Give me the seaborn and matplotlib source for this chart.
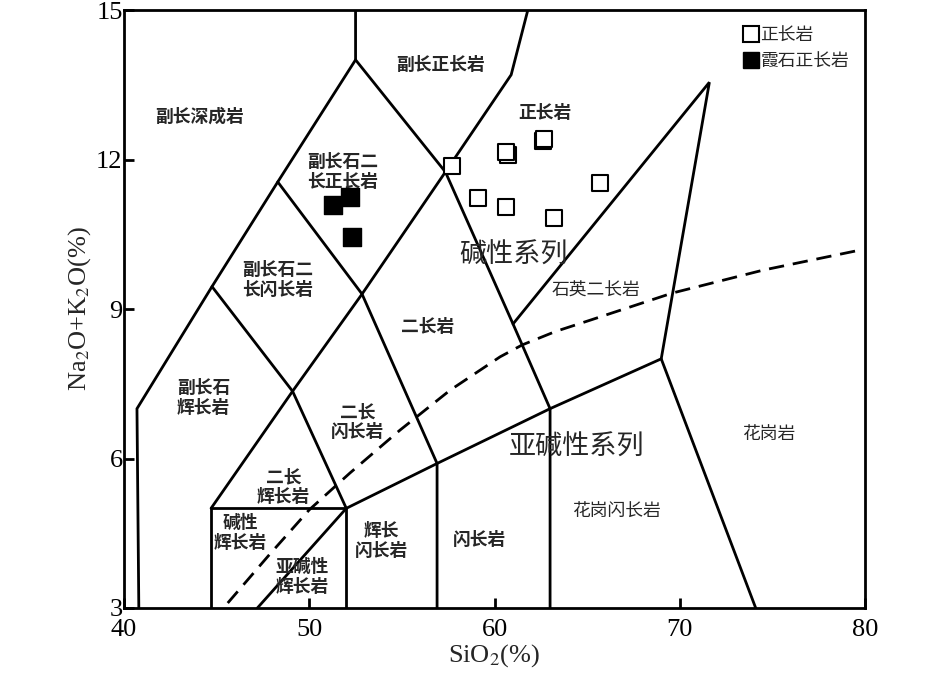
import numpy as np
import pandas as pd
import matplotlib
matplotlib.use("Agg")
import matplotlib.pyplot as plt
import seaborn as sns
from matplotlib.lines import Line2D

# samples
syenite_sio2 = [57.7, 59.1, 60.6, 60.75, 60.6, 62.6, 62.65, 65.7, 63.2]
syenite_alk = [11.87, 11.23, 11.05, 12.10, 12.16, 12.37, 12.42, 11.53, 10.83]
neph_sio2 = [51.3, 52.2, 52.3]
neph_alk = [11.09, 11.25, 10.44]

# field boundaries (SiO2, Na2O+K2O)
line_left = [(40.8, 3), (40.7, 7.0), (44.75, 9.45), (48.3, 11.55), (52.5, 14.0), (52.5, 15)]
line_mid = [(52.5, 14.0), (57.35, 11.75), (61.0, 8.7), (63.0, 7.0), (63.0, 3)]
line_top = [(57.35, 11.75), (60.9, 13.7), (61.8, 15)]
line_qm = [(61.0, 8.7), (71.6, 13.55), (69.0, 8.0), (74.1, 3)]
line_box = [(44.7, 3), (44.7, 5.0), (52.0, 5.0), (52.0, 3)]
line_f = [(44.7, 5.0), (49.1, 7.35), (52.85, 9.3), (57.35, 11.75)]
line_g = [(44.75, 9.45), (49.1, 7.35), (52.0, 5.0), (56.9, 5.9), (63.0, 7.0), (69.0, 8.0)]
line_h = [(48.3, 11.55), (52.85, 9.3), (56.9, 5.9), (56.9, 3)]
line_i = [(52.0, 5.0), (47.2, 3)]
boundaries = [line_left, line_mid, line_top, line_qm, line_box, line_f, line_g, line_h, line_i]

# alkaline / subalkaline divide
div_sio2 = [45.6, 47.8, 50.0, 52.2, 54.9, 57.6, 60.3, 61.5, 63.3, 65.2, 69.6, 74.5, 79.7]
div_alk = [3.1, 4.05, 4.97, 5.71, 6.57, 7.37, 8.04, 8.28, 8.55, 8.78, 9.32, 9.78, 10.18]

field_names = ["副长深成岩", "副长正长岩", "正长岩", "副长石二\n长正长岩", "副长石二\n长闪长岩",
               "石英二长岩", "二长岩", "副长石\n辉长岩", "二长\n闪长岩", "花岗岩", "二长\n辉长岩",
               "花岗闪长岩", "碱性\n辉长岩", "辉长\n闪长岩", "闪长岩", "亚碱性\n辉长岩"]
field_x = [44.1, 57.1, 62.7, 51.8, 48.3, 65.5, 56.4, 44.3, 52.6, 74.8, 48.6, 66.6, 46.3, 53.9, 59.2, 49.6]
field_y = [12.87, 13.9, 12.93, 11.75, 9.58, 9.36, 8.64, 7.21, 6.73, 6.49, 5.43, 4.93, 4.5, 4.35, 4.37, 3.62]
field_bold = [True, True, True, True, True, False, True, True, True, False, True, False, True, True, True, True]

series_names = ["碱性系列", "亚碱性系列"]
series_x = [61.0, 64.45]
series_y = [10.08, 6.23]

sns.set_style("ticks")
plt.rcParams['font.family'] = ['Liberation Serif', 'Noto Sans CJK SC']
plt.rcParams['mathtext.fontset'] = 'stix'
cjk = ['Noto Sans CJK SC', 'DejaVu Sans']

fig = plt.figure(figsize=(9.45, 6.77), dpi=100)
ax = fig.add_axes([124 / 945, 1 - 608 / 677, 741 / 945, 598 / 677])
ax.set_axisbelow(False)

for seg in boundaries:
    df = pd.DataFrame(seg, columns=["x", "y"])
    ax.plot(df["x"], df["y"], color="black", lw=2.0, solid_joinstyle="miter")

ax.plot(div_sio2, div_alk, color="black", lw=2.0, ls=(0, (5.5, 3.2)))

sns.scatterplot(x=syenite_sio2, y=syenite_alk, marker="s", s=130, facecolor="white",
                edgecolor="black", linewidth=1.5, ax=ax, zorder=5)
sns.scatterplot(x=neph_sio2, y=neph_alk, marker="s", s=150, color="black",
                edgecolor="black", linewidth=1, ax=ax, zorder=5)

for name, x, y, b in zip(field_names, field_x, field_y, field_bold):
    ax.text(x, y, name, ha="center", va="center", fontsize=12.8, family=cjk,
            fontweight="bold" if b else "normal", linespacing=1.15)

for name, x, y in zip(series_names, series_x, series_y):
    ax.text(x, y, name, ha="center", va="center", fontsize=19.5, family=cjk)

handles = [Line2D([], [], marker="s", ls="none", ms=11, mfc="white", mec="black", mew=1.5),
           Line2D([], [], marker="s", ls="none", ms=11, mfc="black", mec="black")]
leg = ax.legend(handles, ["正长岩", "霞石正长岩"], loc="upper right", bbox_to_anchor=(1.0, 1.0),
                frameon=False, handlelength=0.8, handletextpad=0.1, labelspacing=0.45,
                prop={"family": cjk, "size": 12.8})

ax.set_xlim(40, 80)
ax.set_ylim(3, 15)
ax.set_xticks([40, 50, 60, 70, 80])
ax.set_yticks([3, 6, 9, 12, 15])
ax.tick_params(direction="in", length=7, width=2.0, color="black",
               labelsize=19, labelcolor="black")
ax.tick_params(axis="x", pad=8)
ax.tick_params(axis="y", pad=1)
for s in ax.spines.values():
    s.set_linewidth(2.0)
    s.set_color("black")
ax.set_xlabel("SiO$_2$(%)", fontsize=19, labelpad=1)
ax.set_ylabel("Na$_2$O+K$_2$O(%)", fontsize=19, labelpad=2)

fig.savefig("out.png", dpi=100)
